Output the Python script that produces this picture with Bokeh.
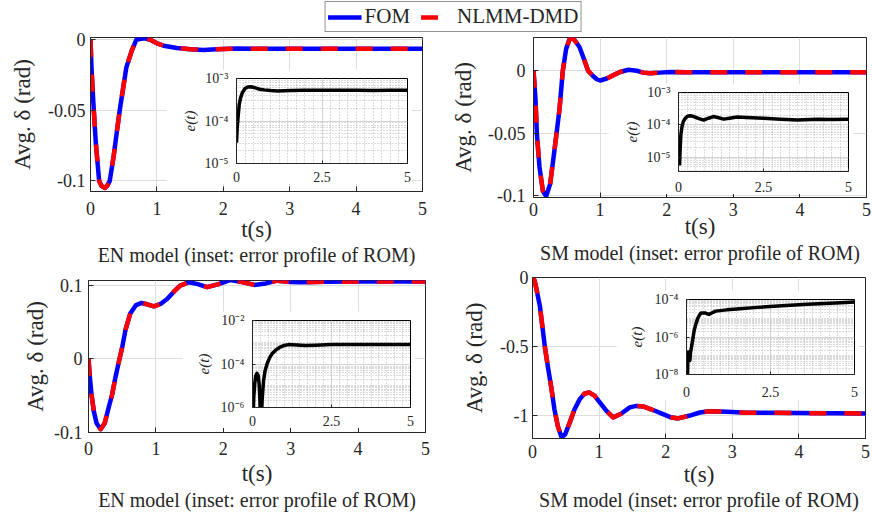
from bokeh.plotting import figure
from bokeh.models import (Range1d, FixedTicker, CustomJSTickFormatter, Legend,
                          LegendItem, GridBox)
from bokeh.embed import file_html
from bokeh.resources import INLINE

# ---------------- data ----------------
# EN model, top panel
t_en1 = [0.0, 0.015, 0.03, 0.05, 0.08, 0.13, 0.165, 0.215, 0.25, 0.29, 0.35, 0.40,
         0.44, 0.54, 0.62, 0.69, 0.76, 0.82, 0.90, 1.0, 1.1, 1.3, 1.5, 1.7, 1.9,
         2.2, 2.6, 3.0, 3.5, 4.0, 4.5, 5.0]
delta_en1 = [0.0, -0.0196, -0.0336, -0.050, -0.073, -0.100, -0.1035, -0.105, -0.1035,
             -0.100, -0.082, -0.064, -0.050, -0.0196, -0.008, 0.0, 0.0007, 0.001,
             0.0, -0.0025, -0.0042, -0.0058, -0.0067, -0.0072, -0.0068, -0.0062,
             -0.0064, -0.0063, -0.0063, -0.0063, -0.0063, -0.0063]
t_err_en1 = [0.0, 0.02, 0.04, 0.08, 0.12, 0.175, 0.25, 0.33, 0.42, 0.55, 0.68, 0.81,
             1.0, 1.2, 1.6, 2.0, 2.5, 3.0, 3.5, 4.0, 4.5, 5.0]
err_en1 = [3.1e-5, 7e-5, 1.1e-4, 2.45e-4, 3.5e-4, 4.7e-4, 5.8e-4, 6.3e-4, 6.4e-4,
           6.0e-4, 5.6e-4, 5.4e-4, 5.2e-4, 5.1e-4, 5.2e-4, 5.3e-4, 5.3e-4, 5.3e-4,
           5.3e-4, 5.25e-4, 5.3e-4, 5.3e-4]

# SM model, top panel
t_sm1 = [0.0, 0.03, 0.05, 0.09, 0.14, 0.19, 0.25, 0.315, 0.39, 0.44, 0.49, 0.54,
         0.59, 0.69, 0.76, 0.82, 0.89, 0.95, 1.0, 1.1, 1.2, 1.3, 1.425, 1.55, 1.65,
         1.75, 1.9, 2.05, 2.3, 3.0, 4.0, 5.0]
delta_sm1 = [0.0, -0.023, -0.050, -0.077, -0.096, -0.1005, -0.0905, -0.0635, -0.031,
             0.0, 0.0175, 0.025, 0.0265, 0.019, 0.009, 0.0, -0.004, -0.0068, -0.0078,
             -0.0062, -0.0035, -0.001, 0.0008, 0.0, -0.0015, -0.002, -0.0015, -0.001,
             -0.0012, -0.0012, -0.0012, -0.0012]
t_err_sm1 = [0.03, 0.05, 0.07, 0.10, 0.14, 0.20, 0.27, 0.34, 0.45, 0.60, 0.74, 0.88,
             1.03, 1.18, 1.33, 1.50, 1.72, 2.0, 2.5, 3.0, 3.5, 4.1, 4.5, 5.0]
err_sm1 = [5.5e-6, 2e-5, 4.9e-5, 8.5e-5, 1.26e-4, 1.6e-4, 1.85e-4, 1.9e-4, 1.8e-4,
           1.55e-4, 1.4e-4, 1.6e-4, 1.8e-4, 1.65e-4, 1.5e-4, 1.6e-4, 1.74e-4, 1.7e-4,
           1.6e-4, 1.5e-4, 1.4e-4, 1.5e-4, 1.45e-4, 1.5e-4]

# EN model, bottom panel
t_en2 = [0.0, 0.02, 0.045, 0.08, 0.12, 0.18, 0.24, 0.30, 0.35, 0.40, 0.46, 0.50,
         0.55, 0.62, 0.70, 0.78, 0.87, 0.97, 1.07, 1.17, 1.27, 1.36, 1.49, 1.62,
         1.76, 1.93, 2.10, 2.28, 2.46, 2.63, 2.80, 3.0, 3.15, 3.5, 4.0, 4.5, 5.0]
delta_en2 = [0.0, -0.025, -0.049, -0.072, -0.088, -0.096, -0.088, -0.066, -0.049,
             -0.025, 0.0, 0.016, 0.040, 0.062, 0.073, 0.0763, 0.0745, 0.0717, 0.075,
             0.082, 0.092, 0.100, 0.1046, 0.102, 0.098, 0.102, 0.1075, 0.105, 0.101,
             0.103, 0.1068, 0.105, 0.1046, 0.1052, 0.1055, 0.1055, 0.1055]
t_err_en2 = [0.02, 0.04, 0.07, 0.10, 0.14, 0.18, 0.21, 0.235, 0.25, 0.28, 0.31, 0.35,
             0.40, 0.46, 0.54, 0.62, 0.75, 0.88, 1.0, 1.14, 1.4, 1.67, 2.0, 2.5, 3.0,
             3.5, 4.0, 4.5, 5.0]
err_en2 = [3e-7, 3e-6, 1.2e-5, 2.8e-5, 3.7e-5, 3e-5, 1.2e-5, 2e-6, 3e-7, 3e-7, 3e-6,
           1.7e-5, 5e-5, 1e-4, 1.9e-4, 3e-4, 4.5e-4, 6e-4, 7.1e-4, 7.8e-4, 7.5e-4,
           7e-4, 7.3e-4, 7.8e-4, 7.8e-4, 7.8e-4, 7.8e-4, 7.8e-4, 7.8e-4]

# SM model, bottom panel
t_sm2 = [0.0, 0.03, 0.06, 0.11, 0.185, 0.235, 0.285, 0.33, 0.38, 0.435, 0.49, 0.56,
         0.63, 0.71, 0.78, 0.85, 0.93, 1.01, 1.11, 1.21, 1.33, 1.46, 1.56, 1.66, 1.81,
         1.96, 2.07, 2.185, 2.35, 2.51, 2.66, 2.81, 3.0, 3.21, 3.5, 4.0, 4.5, 5.0]
delta_sm2 = [0.0, -0.02, -0.085, -0.206, -0.50, -0.66, -0.81, -0.96, -1.08, -1.16,
             -1.14, -1.053, -0.96, -0.884, -0.845, -0.835, -0.858, -0.908, -0.97,
             -1.017, -0.99, -0.944, -0.933, -0.937, -0.963, -0.993, -1.015, -1.024,
             -1.005, -0.981, -0.972, -0.973, -0.978, -0.983, -0.982, -0.985, -0.987,
             -0.988]
t_err_sm2 = [0.03, 0.04, 0.05, 0.07, 0.10, 0.12, 0.15, 0.19, 0.23, 0.28, 0.33, 0.38,
             0.43, 0.50, 0.57, 0.62, 0.67, 0.75, 0.87, 1.2, 1.6, 2.1, 2.6, 3.1, 3.6,
             4.1, 4.6, 5.0]
err_sm2 = [5e-9, 1.3e-7, 1.6e-7, 7e-8, 5.6e-8, 1.5e-7, 3e-7, 8e-7, 2.3e-6, 5e-6, 9.5e-6,
           1.4e-5, 1.9e-5, 1.9e-5, 1.9e-5, 1.7e-5, 1.6e-5, 1.9e-5, 2.4e-5, 2.8e-5,
           3.2e-5, 3.8e-5, 4.4e-5, 5e-5, 5.6e-5, 6.2e-5, 6.8e-5, 7.4e-5]

x_ticks_main = [0, 1, 2, 3, 4, 5]
x_ticks_inset = [0, 2.5, 5]
caption_en = "EN model (inset: error profile of ROM)"
caption_sm = "SM model (inset: error profile of ROM)"
y_label = "Avg. \u03b4 (rad)"
x_label = "t(s)"
inset_label = "e(t)"
legend_labels = ["FOM", "NLMM-DMD"]

# ---------------- styling ----------------
FONT = "Liberation Serif"
TXT = "#262626"
BLUE = "#0000ff"
RED = "#ff0000"
GRID = "#dedede"

LIN_FMT = "return String(Math.round(tick*1000)/1000);"
LOG_FMT = """
const sup = {'-':'\u207b','0':'\u2070','1':'\u00b9','2':'\u00b2','3':'\u00b3',
             '4':'\u2074','5':'\u2075','6':'\u2076','7':'\u2077','8':'\u2078','9':'\u2079'};
const e = Math.round(Math.log10(tick));
return '10' + String(e).split('').map(c => sup[c]).join('');
"""

W_TOTAL, H_TOTAL = 871, 515
placed = []


def style_axis(ax, lab_size, ax_size, s1, s2, tick_in):
    ax.major_label_text_font = FONT
    ax.major_label_text_font_size = lab_size
    ax.major_label_text_color = TXT
    ax.axis_label_text_font = FONT
    ax.axis_label_text_font_size = ax_size
    ax.axis_label_text_color = TXT
    ax.major_label_standoff = s1
    ax.axis_label_standoff = s2
    ax.major_tick_in = tick_in
    ax.major_tick_out = 0
    ax.minor_tick_line_color = None
    ax.axis_line_color = TXT
    ax.major_tick_line_color = TXT


def main_fig(t, d, yr, yticks, caption, box, frame, xs, ys, ts):
    x0, y0, x1, y1 = box
    fx0, fy0, fx1, fy1 = frame
    p = figure(width=x1 - x0, height=y1 - y0, x_range=Range1d(0, 5),
               y_range=Range1d(*yr), output_backend="svg", toolbar_location=None,
               title=caption, title_location="below",
               min_border_left=fx0 - x0, min_border_right=x1 - fx1,
               min_border_top=fy0 - y0, min_border_bottom=y1 - fy1)
    p.line(t, d, color=BLUE, line_width=4.5, line_join="round")
    p.line(t, d, color=RED, line_width=4.5, line_dash="17 18", line_join="round")
    p.xaxis.ticker = FixedTicker(ticks=x_ticks_main)
    p.yaxis.ticker = FixedTicker(ticks=yticks)
    p.xaxis.formatter = CustomJSTickFormatter(code=LIN_FMT)
    p.yaxis.formatter = CustomJSTickFormatter(code=LIN_FMT)
    p.xaxis.axis_label = x_label
    p.yaxis.axis_label = y_label
    style_axis(p.xaxis[0], "18px", "23px", xs[0], xs[1], 5)
    style_axis(p.yaxis[0], "18px", "23px", ys[0], ys[1], 5)
    p.xaxis.axis_label_text_font_style = "normal"
    p.yaxis.axis_label_text_font_style = "normal"
    p.grid.grid_line_color = GRID
    p.outline_line_color = TXT
    p.outline_line_alpha = 1.0
    p.title.text_font = FONT
    p.title.text_font_size = "20px"
    p.title.text_font_style = "normal"
    p.title.text_color = TXT
    p.title.align = "center"
    p.title.standoff = ts
    placed.append((p, box))
    return p


def inset_fig(t, e, yr, yticks, yminor, box, frame, s_x, s_ylab):
    x0, y0, x1, y1 = box
    fx0, fy0, fx1, fy1 = frame
    p = figure(width=x1 - x0, height=y1 - y0, x_range=Range1d(0, 5),
               y_range=Range1d(*yr), y_axis_type="log", output_backend="svg",
               toolbar_location=None,
               min_border_left=fx0 - x0, min_border_right=x1 - fx1,
               min_border_top=fy0 - y0, min_border_bottom=y1 - fy1)
    p.line(t, e, color="black", line_width=3.5, line_join="round")
    xt = FixedTicker(ticks=x_ticks_inset, minor_ticks=[0.25 * i for i in range(21)])
    yt = FixedTicker(ticks=yticks, minor_ticks=yminor)
    p.xaxis.ticker = xt
    p.yaxis.ticker = yt
    p.xgrid.ticker = xt
    p.ygrid.ticker = yt
    p.xaxis.formatter = CustomJSTickFormatter(code=LIN_FMT)
    p.yaxis.formatter = CustomJSTickFormatter(code=LOG_FMT)
    p.yaxis.axis_label = inset_label
    style_axis(p.xaxis[0], "14px", "14px", s_x, 0, 3)
    style_axis(p.yaxis[0], "14px", "15px", 4, s_ylab, 3)
    p.yaxis.axis_label_text_font_style = "italic"
    p.grid.grid_line_color = "#d4d4d4"
    p.grid.minor_grid_line_color = "#b8b8b8"
    p.grid.minor_grid_line_dash = "1 2"
    p.outline_line_color = "black"
    p.outline_line_alpha = 1.0
    placed.append((p, box))
    return p


def log_minor(lo, hi):
    return [m * 10.0 ** k for k in range(lo, hi) for m in range(1, 10)]


# main panels: (box), (frame) in page pixels, x-axis standoffs, y-axis standoffs, title standoff
# (boxes deliberately do not share grid edges, so that frames are not auto-aligned)
main_fig(t_en1, delta_en1, (-0.1075, 0.0016), [-0.1, -0.05, 0], caption_en,
         (0, 20, 436, 276), (90, 35, 422, 191), (10, -1), (5, 10), -6)
main_fig(t_sm1, delta_sm1, (-0.1014, 0.0266), [-0.1, -0.05, 0], caption_sm,
         (436, 20, 871, 275), (533, 37, 866, 197), (5, -5), (8, 9), -3)
main_fig(t_en2, delta_en2, (-0.1005, 0.107), [-0.1, 0, 0.1], caption_en,
         (1, 268, 435, 515), (88, 280, 425, 432), (9, 3), (6, 3), -4)
main_fig(t_sm2, delta_sm2, (-1.17, 0.0), [-1, -0.5, 0], caption_sm,
         (437, 269, 870, 514), (532, 277, 865, 438), (6, 1), (4, 10), -5)

# insets
inset_fig(t_err_en1, err_en1, (1e-5, 1e-3), [1e-5, 1e-4, 1e-3], log_minor(-5, -3),
          (166, 69, 412, 184), (236, 78, 407, 164), 4, 4)
inset_fig(t_err_sm1, err_sm1, (3.6e-6, 1e-3), [1e-5, 1e-4, 1e-3], log_minor(-6, -3),
          (608, 83, 853, 194), (678, 92, 848, 171), 6, 4)
inset_fig(t_err_en2, err_en2, (1e-6, 1e-2), [1e-6, 1e-4, 1e-2], log_minor(-6, -2),
          (182, 311, 415, 428), (252, 320, 410, 407), 4, 6)
inset_fig(t_err_sm2, err_sm2, (1e-8, 1e-4), [1e-8, 1e-6, 1e-4], log_minor(-8, -4),
          (616, 290, 859, 400), (686, 299, 854, 374), 8, 7)

# legend strip (transparent figure holding only the legend box)
lbox = (300, 0, 606, 32)
leg = figure(width=lbox[2] - lbox[0], height=lbox[3] - lbox[1],
             x_range=Range1d(0, 1), y_range=Range1d(0, 1), output_backend="svg",
             toolbar_location=None, x_axis_location=None, y_axis_location=None,
             min_border=0, border_fill_color=None, background_fill_color=None)
leg.grid.visible = False
leg.outline_line_color = None
# legend proxies: placed outside the visible range, only their legend glyphs show
r1 = leg.line([2, 3], [2, 2], color=BLUE, line_width=4.5)
r2 = leg.line([2, 3], [2, 2], color=RED, line_width=4.5, line_dash="17 18")
legend = Legend(items=[LegendItem(label=legend_labels[0], renderers=[r1]),
                       LegendItem(label=legend_labels[1], renderers=[r2])],
                orientation="horizontal", location="top", margin=1, padding=2,
                spacing=10, glyph_width=34, label_standoff=3,
                border_line_color=TXT, border_line_width=1,
                label_text_font=FONT, label_text_font_size="21px",
                label_text_color=TXT, background_fill_color="white",
                background_fill_alpha=1.0)
leg.add_layout(legend)
placed.append((leg, lbox))

# ---------------- layout: pixel grid with overlapping cells ----------------
xb = sorted({0, W_TOTAL} | {b[0] for _, b in placed} | {b[2] for _, b in placed})
yb = sorted({0, H_TOTAL} | {b[1] for _, b in placed} | {b[3] for _, b in placed})
cols = [f"{xb[i + 1] - xb[i]}px" for i in range(len(xb) - 1)]
rows = [f"{yb[i + 1] - yb[i]}px" for i in range(len(yb) - 1)]
children = []
for fig, (x0, y0, x1, y1) in placed:
    c0, c1 = xb.index(x0), xb.index(x1)
    r0, r1_ = yb.index(y0), yb.index(y1)
    children.append((fig, r0, c0, r1_ - r0, c1 - c0))

grid = GridBox(children=children, rows=rows, cols=cols, spacing=0)

open("out.html", "w").write(file_html(grid, INLINE))
